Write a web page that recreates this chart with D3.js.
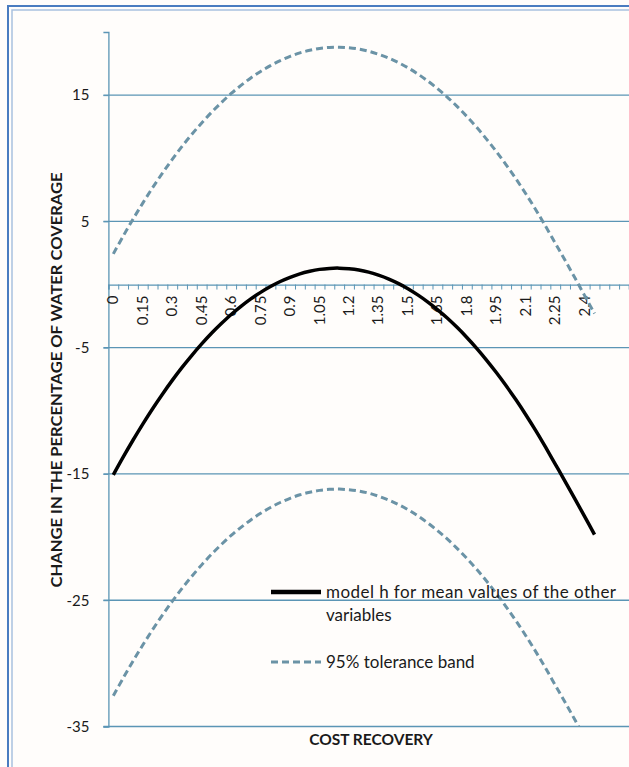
<!DOCTYPE html>
<html>
<head>
<meta charset="utf-8">
<script src="https://cdn.jsdelivr.net/npm/d3@7"></script>
<style>
    body { margin: 0; background: #fffdfb; }
    svg { display: block; }
    text { font-family: Lato, 'Noto Sans', sans-serif; fill: #1a1a1a; }
</style>
</head>
<body>
<svg id="canvas" width="629" height="767"></svg>
<script>
/** Cost recovery categories (0 to 2.45, step 0.05) */
const costRecovery = [0, 0.05, 0.1, 0.15, 0.2, 0.25, 0.3, 0.35, 0.4, 0.45, 0.5, 0.55, 0.6, 0.65, 0.7, 0.75,
    0.8, 0.85, 0.9, 0.95, 1, 1.05, 1.1, 1.15, 1.2, 1.25, 1.3, 1.35, 1.4, 1.45, 1.5, 1.55, 1.6, 1.65,
    1.7, 1.75, 1.8, 1.85, 1.9, 1.95, 2, 2.05, 2.1, 2.15, 2.2, 2.25, 2.3, 2.35, 2.4, 2.45];

/** model h for mean values of the other variables */
const modelH = [-15.07, -13.67, -12.33, -11.05, -9.83, -8.68, -7.59, -6.56, -5.60, -4.70, -3.86,
    -3.09, -2.37, -1.73, -1.14, -0.62, -0.16, 0.24, 0.57, 0.85, 1.05, 1.20, 1.28, 1.30, 1.25, 1.15,
    0.98, 0.74, 0.45, 0.09, -0.33, -0.82, -1.37, -1.98, -2.65, -3.39, -4.19, -5.05, -5.98, -6.97,
    -8.02, -9.13, -10.31, -11.55, -12.86, -14.22, -15.58, -16.97, -18.38, -19.80];

/** 95% tolerance band, upper and lower */
const upperBand = [2.43, 3.83, 5.17, 6.45, 7.67, 8.82, 9.91, 10.94, 11.90, 12.80, 13.64, 14.41,
    15.13, 15.77, 16.36, 16.88, 17.34, 17.74, 18.07, 18.35, 18.55, 18.70, 18.78, 18.80, 18.75, 18.65,
    18.48, 18.24, 17.95, 17.59, 17.17, 16.68, 16.13, 15.52, 14.85, 14.11, 13.31, 12.45, 11.52, 10.53,
    9.48, 8.37, 7.19, 5.95, 4.64, 3.28, 1.92, 0.53, -0.88, -2.30];
const lowerBand = [-32.57, -31.17, -29.83, -28.55, -27.33, -26.18, -25.09, -24.06, -23.10, -22.20,
    -21.36, -20.59, -19.87, -19.23, -18.64, -18.12, -17.66, -17.26, -16.93, -16.65, -16.45, -16.30,
    -16.22, -16.20, -16.25, -16.35, -16.52, -16.76, -17.05, -17.41, -17.83, -18.32, -18.87, -19.48,
    -20.15, -20.89, -21.69, -22.55, -23.48, -24.47, -25.52, -26.63, -27.81, -29.05, -30.36, -31.72,
    -33.08, -34.47, -35.88, -37.30];

/** Axis labels */
const yTicks = [-35, -25, -15, -5, 5, 15];
const xTickLabels = [0, 0.15, 0.3, 0.45, 0.6, 0.75, 0.9, 1.05, 1.2, 1.35, 1.5, 1.65, 1.8, 1.95, 2.1, 2.25, 2.4];

const gridColor = '#5b95b5';
const bandColor = '#6b93a6';

const svg = d3.select('#canvas');

/** Chart frame (double blue border on the left and top) */
svg.append('path')
    .attr('d', 'M8,767V6H629')
    .attr('fill', 'none')
    .attr('stroke', '#4a7cc0')
    .attr('stroke-width', 2);
svg.append('path')
    .attr('d', 'M12,767V10H629')
    .attr('fill', 'none')
    .attr('stroke', '#a9c1e0')
    .attr('stroke-width', 1.5);

/** Scales: categories sit between tick marks, axis runs on past the data */
const step = 0.05;
const x = d3.scaleLinear()
    .domain([-step / 2, 2.625])
    .range([108.4, 628.9]);
const y = d3.scaleLinear()
    .domain([-35, 20])
    .range([726.5, 32]);

/** Horizontal gridlines */
svg.append('g')
    .selectAll('line')
    .data(yTicks)
    .enter()
    .append('line')
    .attr('x1', x.range()[0] - 5)
    .attr('x2', 629)
    .attr('y1', (d) => y(d))
    .attr('y2', (d) => y(d))
    .attr('stroke', gridColor)
    .attr('stroke-width', 1.3);

/** Y axis (plain hyphen for negatives, as in the original) */
const yAxis = svg.append('g')
    .attr('transform', `translate(${x.range()[0]},0)`)
    .call(d3.axisLeft(y).tickValues(yTicks).tickSize(5).tickPadding(14).tickFormat((d) => String(d)));
yAxis.select('.domain').attr('stroke', gridColor).attr('stroke-width', 1.3);
yAxis.selectAll('.tick line').attr('stroke', gridColor);
yAxis.selectAll('.tick text')
    .style('font-size', '15px')
    .style('font-family', 'Lato, sans-serif')
    .attr('fill', '#1a1a1a');

/** X axis on the zero line: a tick at every category boundary */
const boundaries = d3.range(0, 54).map((i) => -step / 2 + i * step);
const xAxis = svg.append('g')
    .attr('transform', `translate(0,${y(0)})`)
    .call(d3.axisBottom(x).tickValues(boundaries).tickSize(5).tickFormat(''));
xAxis.select('.domain').attr('stroke', gridColor).attr('stroke-width', 1.3);
xAxis.selectAll('.tick line').attr('stroke', gridColor);

/** Category labels, rotated */
svg.append('g')
    .selectAll('text')
    .data(xTickLabels)
    .enter()
    .append('text')
    .attr('transform', (d) => `translate(${x(d) + 5},${y(0) + 11}) rotate(-90)`)
    .attr('text-anchor', 'end')
    .style('font-size', '15px')
    .text((d) => d);

/** Series lines, clipped to the plot area */
svg.append('clipPath')
    .attr('id', 'plot-clip')
    .append('rect')
    .attr('x', x.range()[0])
    .attr('y', y.range()[1])
    .attr('width', x.range()[1] - x.range()[0])
    .attr('height', y.range()[0] - y.range()[1]);

const line = d3.line()
    .x((d) => x(d[0]))
    .y((d) => y(d[1]))
    .curve(d3.curveCatmullRom);

const plot = svg.append('g').attr('clip-path', 'url(#plot-clip)');

[upperBand, lowerBand].forEach((band) => {
    plot.append('path')
        .datum(d3.zip(costRecovery, band))
        .attr('d', line)
        .attr('fill', 'none')
        .attr('stroke', bandColor)
        .attr('stroke-width', 3)
        .attr('stroke-dasharray', '7,4');
});

plot.append('path')
    .datum(d3.zip(costRecovery, modelH))
    .attr('d', line)
    .attr('fill', 'none')
    .attr('stroke', '#000')
    .attr('stroke-width', 3.5);

/** Legend */
const legend = svg.append('g');
legend.append('line')
    .attr('x1', 271).attr('x2', 321)
    .attr('y1', 592).attr('y2', 592)
    .attr('stroke', '#000')
    .attr('stroke-width', 4.5);
legend.append('text')
    .attr('x', 326).attr('y', 598)
    .style('font-size', '17px')
    .attr('textLength', 290)
    .attr('lengthAdjust', 'spacing')
    .text('model h for mean values of the other');
legend.append('text')
    .attr('x', 326).attr('y', 621)
    .style('font-size', '17px')
    .text('variables');
legend.append('line')
    .attr('x1', 271).attr('x2', 321)
    .attr('y1', 662).attr('y2', 662)
    .attr('stroke', bandColor)
    .attr('stroke-width', 3)
    .attr('stroke-dasharray', '7,4');
legend.append('text')
    .attr('x', 326).attr('y', 668)
    .style('font-size', '17px')
    .text('95% tolerance band');

/** Axis titles */
svg.append('text')
    .attr('x', 371).attr('y', 745)
    .attr('text-anchor', 'middle')
    .style('font-size', '15.5px')
    .style('font-weight', 'bold')
    .text('COST RECOVERY');

svg.append('text')
    .attr('transform', 'translate(62,380) rotate(-90)')
    .attr('text-anchor', 'middle')
    .style('font-size', '15px')
    .style('font-weight', 'bold')
    .attr('textLength', 415)
    .attr('lengthAdjust', 'spacingAndGlyphs')
    .text('CHANGE IN THE PERCENTAGE  OF WATER COVERAGE');
</script>
</body>
</html>
